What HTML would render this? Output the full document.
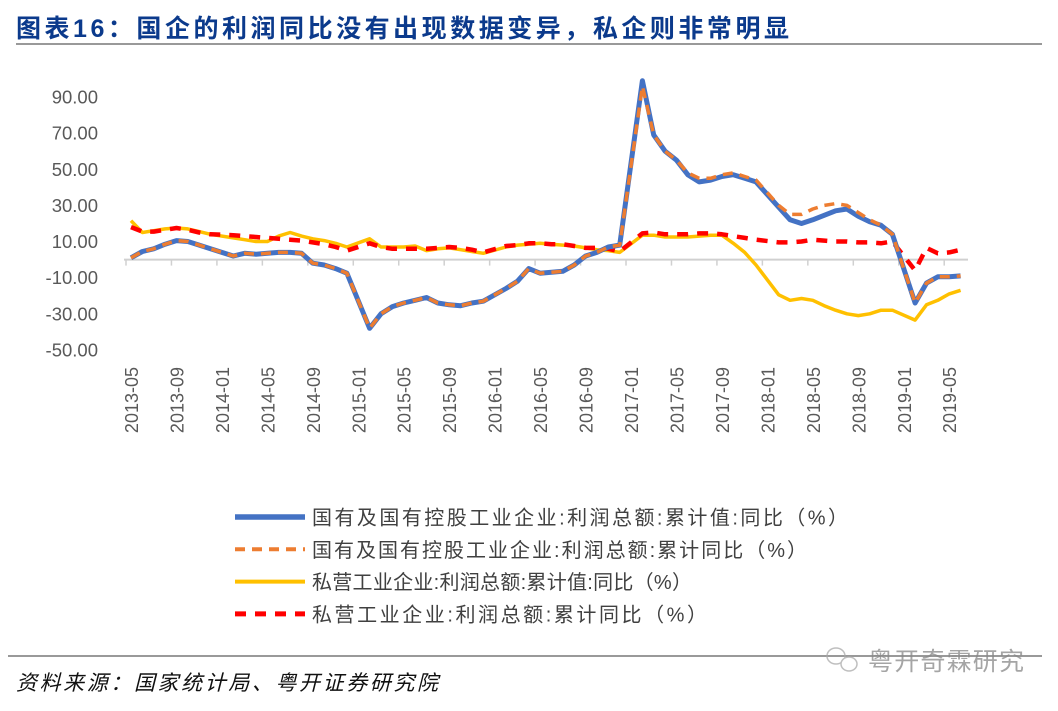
<!DOCTYPE html>
<html><head><meta charset="utf-8"><style>
body{margin:0;background:#fff;width:1058px;height:706px;overflow:hidden;font-family:"Liberation Sans","Noto Sans CJK SC",sans-serif;}
</style></head><body>
<svg width="1058" height="706" xmlns="http://www.w3.org/2000/svg">
<text x="16" y="37" font-size="25" font-weight="bold" fill="#0b3a8c" textLength="773" lengthAdjust="spacing" font-family="Liberation Sans, Noto Sans CJK SC, sans-serif">图表16：国企的利润同比没有出现数据变异，私企则非常明显</text>
<line x1="16" y1="44" x2="1042" y2="44" stroke="#999" stroke-width="2"/>
<g id="yaxis"></g>
<g id="xaxis"></g>
<g id="series"></g>
<g id="legend"></g>
<line x1="8" y1="656" x2="1042" y2="656" stroke="#999" stroke-width="2"/>
<text x="16" y="690" font-size="21" font-style="italic" fill="#111" textLength="422" lengthAdjust="spacing" font-family="Liberation Sans, Noto Sans CJK SC, sans-serif">资料来源：国家统计局、粤开证券研究院</text>
<g opacity="0.75">
<ellipse cx="836" cy="656" rx="9" ry="8" fill="none" stroke="#aaa" stroke-width="1.5"/>
<ellipse cx="849" cy="664" rx="8" ry="7" fill="#fff" stroke="#aaa" stroke-width="1.5"/>
<text x="868" y="670" font-size="25" fill="#888" textLength="156" lengthAdjust="spacing" font-family="Liberation Sans, Noto Sans CJK SC, sans-serif">粤开奇霖研究</text>
</g>
</svg>
<script>
const months=["2013-05","2013-06","2013-07","2013-08","2013-09","2013-10","2013-11","2013-12",
"2014-02","2014-03","2014-04","2014-05","2014-06","2014-07","2014-08","2014-09","2014-10","2014-11","2014-12",
"2015-02","2015-03","2015-04","2015-05","2015-06","2015-07","2015-08","2015-09","2015-10","2015-11","2015-12",
"2016-02","2016-03","2016-04","2016-05","2016-06","2016-07","2016-08","2016-09","2016-10","2016-11","2016-12",
"2017-02","2017-03","2017-04","2017-05","2017-06","2017-07","2017-08","2017-09","2017-10","2017-11","2017-12",
"2018-02","2018-03","2018-04","2018-05","2018-06","2018-07","2018-08","2018-09","2018-10","2018-11","2018-12",
"2019-02","2019-03","2019-04","2019-05","2019-06"];
const soeValue=[1,4.5,6,8.5,10.5,10,8,6, 2,3.5,3,3.5,4,4,3.5,-2,-3,-5,-7.5, -38,-30,-26,-24,-22.5,-21,-24,-25,-25.5,-24,-23,
-16,-12,-5,-7.5,-7,-6.5,-3,2,4,7,8, 99,69,60,55,47,43,44,46,47,45,43, 29,22,20,22,24.5,27,28,24,21,19,14, -24,-13,-9.5,-9.5,-9];
const soeYoY=[1,4.5,6,8.5,10.5,10,8,6, 2,3.5,3,3.5,4,4,3.5,-2,-3,-5,-7.5, -38,-30,-26,-24,-22.5,-21,-24,-25,-25.5,-24,-23,
-16,-12,-5,-7.5,-7,-6.5,-3,2,4,7,8, 96,69,60,55,48,45,45,47,48,46,44, 30,25,25,28,30,31,30,26,22,19,14, -24,-13,-9.5,-9.5,-9];
const pvtValue=[21.5,15,16,17,17.5,17,15.5,14, 12,11,10,10,13,15,13,11.5,10.5,9,7, 11.5,7,7,7,7.5,5,6,6.5,5.5,4.5,3.5,
7,8,8.5,9,8.5,8,7.5,6.5,5.5,5,4, 13.5,13.5,12.5,12.5,12.5,13,13.5,13.5,9,4,-3, -19.5,-22.5,-21.5,-22.5,-25.5,-28,-30,-31,-30,-28,-28, -33.5,-25,-22.5,-19,-17];
const pvtYoY=[18,15.5,15.5,16.5,17.5,16.5,15,14, 13.5,13,12.5,12,11.5,11,10.5,9.5,8.5,7,5, 9,7,6,6,6,6,6.5,7,6.5,5.5,4,
7.5,8,9,9,8.5,8.5,7.5,6.5,6.5,6,4.5, 14.5,15,14,14,14,14.5,14.5,14,13,12,11, 9.5,9.5,10,11,10.5,10,10,9.5,9.5,9,10, -6,6.5,3.5,4,5.5];
const yTicks=[90,70,50,30,10,-10,-30,-50];
const xTickLabels=["2013-05","2013-09","2014-01","2014-05","2014-09","2015-01","2015-05","2015-09","2016-01","2016-05","2016-09","2017-01","2017-05","2017-09","2018-01","2018-05","2018-09","2019-01","2019-05"];
const legendLabels=["国有及国有控股工业企业:利润总额:累计值:同比（%）","国有及国有控股工业企业:利润总额:累计同比（%）","私营工业企业:利润总额:累计值:同比（%）","私营工业企业:利润总额:累计同比（%）"];
const legendLens=[536,495,380,395];

const NS="http://www.w3.org/2000/svg";
function mk(tag,attrs,parent){const e=document.createElementNS(NS,tag);for(const k in attrs)e.setAttribute(k,attrs[k]);parent.appendChild(e);return e;}
function mIndex(s){const [y,m]=s.split("-").map(Number);return (y-2013)*12+(m-5);}
const tickX=s=>126+mIndex(s)*11.364;
const xPos=s=>131+mIndex(s)*11.364;
const yPos=v=>259.6-v*1.807;

const ya=document.getElementById("yaxis");
yTicks.forEach(v=>{const t=mk("text",{x:98,y:yPos(v)+6.5,"text-anchor":"end","font-size":"18.5",fill:"#595959"},ya);t.textContent=v.toFixed(2);

});
const zl=mk("line",{x1:124,y1:yPos(0),x2:968,y2:yPos(0),stroke:"#d0d0d0","stroke-width":2},ya);



const xa=document.getElementById("xaxis");
xTickLabels.forEach(s=>{const x=tickX(s);
const tk=mk("line",{x1:x,y1:yPos(0),x2:x,y2:yPos(0)+6,stroke:"#d0d0d0","stroke-width":1.5},xa);


const t=mk("text",{transform:`translate(${x+12},367) rotate(-90)`,"text-anchor":"end","font-size":"18",fill:"#595959"},xa);t.textContent=s;

});

const styles=[
 {vals:soeValue,stroke:"#4472c4",w:5,dash:"",name:"soe-cumulative-value-line"},
 {vals:soeYoY,stroke:"#ed7d31",w:3.5,dash:"10,7",name:"soe-cumulative-yoy-line"},
 {vals:pvtValue,stroke:"#ffc000",w:3.5,dash:"",name:"private-cumulative-value-line"},
 {vals:pvtYoY,stroke:"#ff0000",w:4.5,dash:"11,9",name:"private-cumulative-yoy-line"}];
const sg=document.getElementById("series");
const order=[2,3,0,1];
order.forEach(i=>{const s=styles[i];
const d=s.vals.map((v,j)=>(j?"L":"M")+xPos(months[j]).toFixed(1)+","+yPos(v).toFixed(1)).join(" ");
const p=mk("path",{d:d,fill:"none",stroke:s.stroke,"stroke-width":s.w,"stroke-dasharray":s.dash,"stroke-linejoin":"round"},sg);

});

const lg=document.getElementById("legend");
legendLabels.forEach((lab,i)=>{const s=styles[i];const y=517+i*32.3;
const l=mk("line",{x1:235,y1:y,x2:305,y2:y,stroke:s.stroke,"stroke-width":s.w+0.5,"stroke-dasharray":s.dash},lg);


const t=mk("text",{x:312,y:y+7.5,"font-size":"20",fill:"#404040",textLength:legendLens[i],lengthAdjust:"spacing","font-family":"Liberation Sans, Noto Sans CJK SC, sans-serif"},lg);t.textContent=lab;

});
</script>
</body></html>
